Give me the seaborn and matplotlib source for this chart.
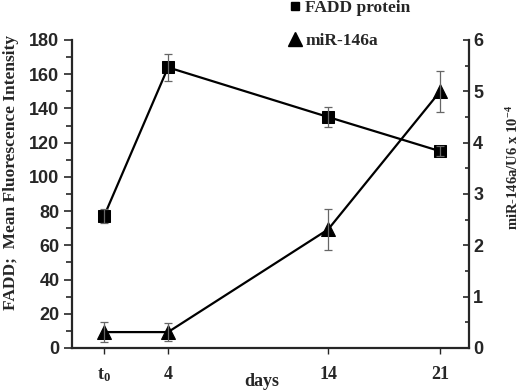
import matplotlib
matplotlib.use("Agg")
import matplotlib.pyplot as plt
from matplotlib.lines import Line2D
from matplotlib.ticker import MultipleLocator
import seaborn as sns
import pandas as pd

# ---- data ----
days = [0, 4, 14, 21]
day_labels = [r"$\mathbf{t}_{\mathbf{0}}$", "4", "14", "21"]
fadd = [77, 164, 135, 115]
fadd_err = [4, 8, 6, 3]
mir = [0.31, 0.31, 2.31, 5.0]
mir_err = [0.2, 0.17, 0.4, 0.4]

sns.set_style("ticks")
plt.rcParams["mathtext.fontset"] = "custom"
plt.rcParams["mathtext.rm"] = "Liberation Serif:bold"
plt.rcParams["mathtext.bf"] = "Liberation Serif:bold"
plt.rcParams["mathtext.it"] = "Liberation Serif:bold"
plt.rcParams["axes.linewidth"] = 1.5

fig = plt.figure(figsize=(5.2, 3.92), dpi=100)
ax = fig.add_axes([72/520, 1-348/392, 397/520, 308/392])
ax2 = ax.twinx()

df1 = pd.DataFrame({"day": days, "val": fadd})
df2 = pd.DataFrame({"day": days, "val": mir})

sns.lineplot(data=df1, x="day", y="val", ax=ax, color="black", marker="s",
             markersize=8, markeredgecolor="black", linewidth=1.6)
ax.errorbar(days, fadd, yerr=fadd_err, fmt="none", ecolor="#666666",
            elinewidth=0.9, capsize=3, capthick=0.9)

sns.lineplot(data=df2, x="day", y="val", ax=ax2, color="black", marker="^",
             markersize=9.5, markeredgecolor="black", linewidth=1.6)
ax2.errorbar(days, mir, yerr=mir_err, fmt="none", ecolor="#666666",
             elinewidth=0.9, capsize=3, capthick=0.9)

ax.set_xlim(-2, 22.8)
ax.set_ylim(0, 180)
ax2.set_ylim(0, 6)

ax.set_xticks(days)
ax.set_xticklabels(day_labels)
ax.yaxis.set_major_locator(MultipleLocator(20))
ax.yaxis.set_minor_locator(MultipleLocator(10))
ax2.yaxis.set_major_locator(MultipleLocator(1))
ax2.yaxis.set_minor_locator(MultipleLocator(0.5))

ax.tick_params(axis="y", which="major", direction="out", length=6, width=1.2, pad=3, labelsize=13)
ax.tick_params(axis="y", which="minor", direction="out", length=4, width=1.2)
ax.tick_params(axis="x", which="major", direction="out", length=4, width=1.0, pad=9, labelsize=13)
ax2.tick_params(axis="y", which="major", direction="in", length=4, width=1.2, pad=3, labelsize=13)
ax2.tick_params(axis="y", which="minor", direction="in", length=3, width=1.2)

for lab in ax.get_yticklabels() + ax2.get_yticklabels():
    lab.set_fontfamily("Liberation Sans")
    lab.set_fontweight("bold")
for lab in ax.get_xticklabels():
    lab.set_fontfamily("Liberation Serif")
    lab.set_fontweight("bold")

ax.spines["top"].set_visible(False)
ax2.spines["top"].set_visible(False)
ax.spines["right"].set_visible(False)
ax2.spines["left"].set_visible(False)
ax2.spines["bottom"].set_visible(False)
for s in ["left", "bottom"]:
    ax.spines[s].set_linewidth(1.6)
ax2.spines["right"].set_linewidth(1.6)

ax.set_xlabel("days", fontfamily="Liberation Serif", fontweight="bold", fontsize=13)
ax.set_ylabel("FADD;  Mean Fluorescence Intensity", fontfamily="Liberation Serif",
              fontweight="bold", fontsize=12.5)
ax2.set_ylabel(r"miR-146a/U6 x 10$^{\mathbf{-4}}$", fontfamily="Liberation Serif",
               fontweight="bold", fontsize=10.5)

ax.xaxis.set_label_coords((262-72)/397, (348-382)/308)
ax.xaxis.label.set_va("center")
ax.yaxis.set_label_coords((11-72)/397, (348-172)/308)
ax.yaxis.label.set_va("center")
ax2.yaxis.set_label_coords((513-72)/397, (348-168)/308)
ax2.yaxis.label.set_va("center")

handles = [Line2D([], [], marker="s", ls="none", color="black", markersize=6),
           Line2D([], [], marker="^", ls="none", color="black", markersize=9.5)]
fig.legend(handles, ["FADD protein", "miR-146a"], loc="upper left",
           bbox_to_anchor=(288/520, 1.0), frameon=False, borderpad=0,
           borderaxespad=0, handlelength=0.8, handletextpad=0.2, labelspacing=0.95,
           prop={"family": "Liberation Serif", "weight": "bold", "size": 12.5})

fig.savefig("out.png", dpi=100)
